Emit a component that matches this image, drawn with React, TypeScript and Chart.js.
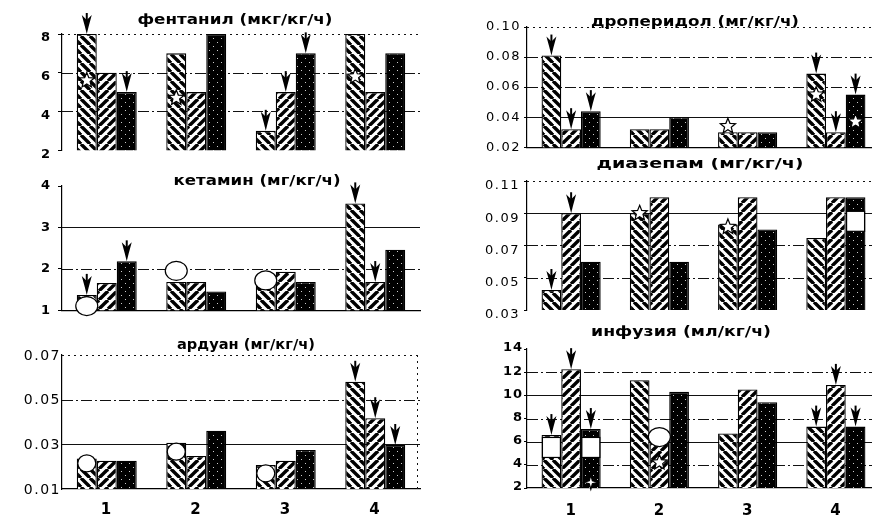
import React, { useEffect, useRef } from 'react';
import { Chart, registerables } from 'chart.js';

Chart.register(...registerables);

// ---------------- data ----------------
const categories = ['1', '2', '3', '4'];

const fentanylA = [8, 7, 3, 8];
const fentanylB = [6, 5, 5, 5];
const fentanylC = [5, 8, 7, 7];
const fentanylTicks = [2, 4, 6, 8];
const fentanylLabels = ['2', '4', '6', '8'];

const droperidolA = [0.081, 0.032, 0.03, 0.069];
const droperidolB = [0.032, 0.032, 0.03, 0.03];
const droperidolC = [0.044, 0.04, 0.03, 0.055];
const droperidolTicks = [0.02, 0.04, 0.06, 0.08, 0.1];
const droperidolLabels = ['0.02', '0.04', '0.06', '0.08', '0.10'];

const ketamineA = [1.37, 1.68, 1.6, 3.58];
const ketamineB = [1.66, 1.68, 1.93, 1.68];
const ketamineC = [2.18, 1.45, 1.68, 2.46];
const ketamineTicks = [1, 2, 3, 4];
const ketamineLabels = ['1', '2', '3', '4'];

const diazepamA = [0.0424, 0.09, 0.083, 0.0747];
const diazepamB = [0.09, 0.1, 0.1, 0.1];
const diazepamC = [0.06, 0.06, 0.08, 0.1];
const diazepamTicks = [0.03, 0.05, 0.07, 0.09, 0.11];
const diazepamLabels = ['0.03', '0.05', '0.07', '0.09', '0.11'];

const arduanA = [0.0237, 0.0307, 0.0207, 0.058];
const arduanB = [0.0227, 0.0248, 0.0227, 0.0417];
const arduanC = [0.0227, 0.0361, 0.0275, 0.0297];
const arduanTicks = [0.01, 0.03, 0.05, 0.07];
const arduanLabels = ['0.01', '0.03', '0.05', '0.07'];

const infusionA = [6.57, 11.3, 6.7, 7.3];
const infusionB = [12.26, 6.0, 10.5, 10.9];
const infusionC = [7.09, 10.3, 9.4, 7.3];
const infusionTicks = [2, 4, 6, 8, 10, 12, 14];
const infusionLabels = ['2', '4', '6', '8', '10', '12', '14'];

// markers: [kind, group index, bar index, value]
type Mark = [string, number, number, number];
const fentanylMarks: Mark[] = [
  ['arrow', 0, 0, 8], ['star', 0, 0, 5.6], ['arrow', 0, 2, 5], ['star', 1, 0, 4.7],
  ['arrow', 2, 0, 3], ['arrow', 2, 1, 5], ['arrow', 2, 2, 7], ['star', 3, 0, 5.8],
];
const droperidolMarks: Mark[] = [
  ['arrow', 0, 0, 0.081], ['arrow', 0, 1, 0.032], ['arrow', 0, 2, 0.044], ['star', 2, 0, 0.034],
  ['arrow', 3, 0, 0.069], ['star', 3, 0, 0.055], ['arrow', 3, 1, 0.03], ['arrow', 3, 2, 0.055],
  ['star', 3, 2, 0.037],
];
const ketamineMarks: Mark[] = [
  ['arrow', 0, 0, 1.37], ['circle', 0, 0, 1.1], ['arrow', 0, 2, 2.18], ['circle', 1, 0, 1.95],
  ['circle', 2, 0, 1.72], ['arrow', 3, 0, 3.58], ['arrow', 3, 1, 1.68],
];
const diazepamMarks: Mark[] = [
  ['arrow', 0, 0, 0.0424], ['arrow', 0, 1, 0.09], ['star', 1, 0, 0.09], ['star', 2, 0, 0.0815],
  ['square', 3, 2, 0.085],
];
const arduanMarks: Mark[] = [
  ['circleS', 0, 0, 0.0215], ['circleS', 1, 0, 0.0267], ['circleS', 2, 0, 0.017],
  ['arrow', 3, 0, 0.058], ['arrow', 3, 1, 0.0417], ['arrow', 3, 2, 0.0297],
];
const infusionMarks: Mark[] = [
  ['arrow', 0, 0, 6.57], ['square', 0, 0, 5.5], ['arrow', 0, 1, 12.26], ['arrow', 0, 2, 7.09],
  ['square', 0, 2, 5.5], ['cross', 0, 2, 2.5], ['circle', 1, 1, 6.4], ['star', 1, 1, 4.2],
  ['arrow', 3, 0, 7.3], ['arrow', 3, 1, 10.9], ['arrow', 3, 2, 7.3],
];

// ---------------- panel configs ----------------
const FONT = '"DejaVu Sans", "Liberation Sans", Arial, sans-serif';

const panels = [
  {
    title: 'фентанил (мкг/кг/ч)', series: [fentanylA, fentanylB, fentanylC], ticks: fentanylTicks, labels: fentanylLabels,
    min: 2, max: 8, marks: fentanylMarks,
    box: [0, 0, 440, 165], plot: [62, 34, 420, 157], titlePos: [235, 20, 195],
    tickFont: { size: 13, weight: 'bold' }, tickSpacing: 1, tickPad: 7, tickLen: 4, labelOffset: 4,
    lines: [[4, 'dashdot'], [6, 'dashdot'], [8, 'dot']], xBorder: 'none', showX: false, xPad: 0,
  },
  {
    title: 'дроперидол (мг/кг/ч)', series: [droperidolA, droperidolB, droperidolC], ticks: droperidolTicks, labels: droperidolLabels,
    min: 0.02, max: 0.1, marks: droperidolMarks,
    box: [436, 0, 444, 158], plot: [527, 27, 880, 152], titlePos: [695, 22, 208],
    tickFont: { size: 13, weight: 'normal' }, tickSpacing: 1.5, tickPad: 3, tickLen: 3, labelOffset: 0,
    lines: [[0.1, 'dot'], [0.08, 'dashdot'], [0.06, 'dashdot'], [0.04, 'solid']], xBorder: 'dot', showX: false, xPad: 0,
  },
  {
    title: 'кетамин (мг/кг/ч)', series: [ketamineA, ketamineB, ketamineC], ticks: ketamineTicks, labels: ketamineLabels,
    min: 1, max: 4, marks: ketamineMarks,
    box: [0, 165, 440, 160], plot: [62, 186, 420, 316], titlePos: [257, 181, 167],
    tickFont: { size: 13, weight: 'bold' }, tickSpacing: 1, tickPad: 7, tickLen: 4, labelOffset: 0,
    lines: [[3, 'solid'], [2, 'dashdot']], xBorder: 'dot', showX: false, xPad: 0,
  },
  {
    title: 'диазепам (мг/кг/ч)', series: [diazepamA, diazepamB, diazepamC], ticks: diazepamTicks, labels: diazepamLabels,
    min: 0.03, max: 0.11, marks: diazepamMarks,
    box: [436, 158, 444, 167], plot: [527, 181, 880, 310], titlePos: [700, 164, 207],
    tickFont: { size: 13, weight: 'normal' }, tickSpacing: 1.5, tickPad: 4, tickLen: 3, labelOffset: 5,
    lines: [[0.11, 'dot'], [0.09, 'solid'], [0.07, 'dashdot'], [0.05, 'dashdot']], xBorder: 'none', showX: false, xPad: 0,
  },
  {
    title: 'ардуан (мг/кг/ч)', series: [arduanA, arduanB, arduanC], ticks: arduanTicks, labels: arduanLabels,
    min: 0.01, max: 0.07, marks: arduanMarks,
    box: [0, 325, 440, 194], plot: [62, 355, 420, 489], titlePos: [246, 345, 138],
    tickFont: { size: 14, weight: 'normal' }, tickSpacing: 1.5, tickPad: 1, tickLen: 0, labelOffset: 1,
    lines: [[0.07, 'dot'], [0.05, 'dashdot'], [0.03, 'solid']], xBorder: 'solid', showX: true, xPad: 12, rightDot: true,
  },
  {
    title: 'инфузия (мл/кг/ч)', series: [infusionA, infusionB, infusionC], ticks: infusionTicks, labels: infusionLabels,
    min: 2, max: 14, marks: infusionMarks,
    box: [436, 325, 444, 194], plot: [527, 349, 880, 488], titlePos: [681, 332, 180],
    tickFont: { size: 13, weight: 'bold' }, tickSpacing: 1, tickPad: 1, tickLen: 3, labelOffset: -1,
    lines: [[12, 'dashdot'], [10, 'solid'], [8, 'dashdot'], [6, 'solid'], [4, 'dashdot']], xBorder: 'solid', showX: true, xPad: 14,
  },
];

const DASH: Record<string, number[]> = {
  solid: [],
  dashdot: [11, 3, 2, 3],
  dot: [2, 4],
  dash: [8, 4],
};

// ---------------- fills ----------------
function hatch(ctx: CanvasRenderingContext2D, dir: 'back' | 'fwd') {
  const s = 9;
  const c = document.createElement('canvas');
  c.width = s; c.height = s;
  const g = c.getContext('2d')!;
  g.fillStyle = '#fff';
  g.fillRect(0, 0, s, s);
  g.strokeStyle = '#000';
  g.lineWidth = 3.4;
  for (const k of [-s, 0, s]) {
    g.beginPath();
    if (dir === 'back') { g.moveTo(k, 0); g.lineTo(k + s, s); }
    else { g.moveTo(k, s); g.lineTo(k + s, 0); }
    g.stroke();
  }
  return ctx.createPattern(c, 'repeat')!;
}

function dots(ctx: CanvasRenderingContext2D) {
  const s = 8;
  const c = document.createElement('canvas');
  c.width = s; c.height = s;
  const g = c.getContext('2d')!;
  g.fillStyle = '#000';
  g.fillRect(0, 0, s, s);
  g.fillStyle = '#ccc';
  g.fillRect(1, 2, 1, 1);
  g.fillRect(5, 6, 1, 1);
  return ctx.createPattern(c, 'repeat')!;
}

// ---------------- markers ----------------
function drawStar(ctx: CanvasRenderingContext2D, x: number, y: number, pts: number, ro: number, ri: number) {
  ctx.beginPath();
  for (let i = 0; i < pts * 2; i++) {
    const r = i % 2 === 0 ? ro : ri;
    const a = -Math.PI / 2 + (i * Math.PI) / pts;
    const px = x + r * Math.cos(a);
    const py = y + r * Math.sin(a);
    if (i === 0) ctx.moveTo(px, py); else ctx.lineTo(px, py);
  }
  ctx.closePath();
  ctx.fillStyle = '#fff';
  ctx.fill();
  ctx.strokeStyle = '#000';
  ctx.lineWidth = 1.2;
  ctx.stroke();
}

function drawMark(ctx: CanvasRenderingContext2D, kind: string, x: number, y: number) {
  ctx.save();
  ctx.setLineDash([]);
  if (kind === 'arrow') {
    ctx.fillStyle = '#000';
    ctx.beginPath();
    ctx.moveTo(x, y);
    ctx.lineTo(x - 2, y - 8);
    ctx.lineTo(x - 5, y - 19);
    ctx.lineTo(x, y - 14);
    ctx.lineTo(x + 5, y - 19);
    ctx.lineTo(x + 2, y - 8);
    ctx.closePath();
    ctx.fill();
    ctx.strokeStyle = '#000';
    ctx.lineWidth = 2;
    ctx.beginPath();
    ctx.moveTo(x, y - 21);
    ctx.lineTo(x, y - 10);
    ctx.stroke();
  } else if (kind === 'star') {
    drawStar(ctx, x, y, 5, 8, 3.5);
  } else if (kind === 'cross') {
    drawStar(ctx, x, y, 4, 7, 2.2);
  } else if (kind === 'circle' || kind === 'circleS') {
    const rx = kind === 'circle' ? 11 : 9;
    const ry = kind === 'circle' ? 9.5 : 8.5;
    ctx.beginPath();
    ctx.ellipse(x, y, rx, ry, 0, 0, Math.PI * 2);
    ctx.fillStyle = '#fff';
    ctx.fill();
    ctx.strokeStyle = '#000';
    ctx.lineWidth = 1.2;
    ctx.stroke();
  } else if (kind === 'square') {
    ctx.fillStyle = '#fff';
    ctx.fillRect(x - 9, y - 10, 18, 20);
    ctx.strokeStyle = '#000';
    ctx.lineWidth = 1.2;
    ctx.strokeRect(x - 9, y - 10, 18, 20);
  }
  ctx.restore();
}

// ---------------- component ----------------
function Panel({ p }: { p: any }) {
  const ref = useRef<HTMLCanvasElement | null>(null);
  const [bx, by, bw, bh] = p.box;
  const [pl, pt, pr, pb] = p.plot;

  useEffect(() => {
    const canvas = ref.current!;
    const ctx = canvas.getContext('2d')!;
    const fills = [hatch(ctx, 'back'), hatch(ctx, 'fwd'), dots(ctx)];
    const yW = pl - bx;
    const xH = by + bh - pb;

    const decor = {
      id: 'decor',
      beforeDraw(chart: any) {
        chart.ctx.letterSpacing = p.tickSpacing + 'px';
      },
      beforeDatasetsDraw(chart: any) {
        const c = chart.ctx;
        const area = chart.chartArea;
        const ys = chart.scales.y;
        c.save();
        c.strokeStyle = '#111';
        c.lineWidth = 1;
        for (const [v, st] of p.lines) {
          const y = Math.round(ys.getPixelForValue(v)) + 0.5;
          c.setLineDash(DASH[st]);
          c.beginPath();
          c.moveTo(area.left, y);
          c.lineTo(area.right, y);
          c.stroke();
        }
        if (p.rightDot) {
          c.setLineDash(DASH.dot);
          c.beginPath();
          c.moveTo(area.right - 2.5, area.top);
          c.lineTo(area.right - 2.5, area.bottom);
          c.stroke();
        }
        c.restore();
      },
      afterDatasetsDraw(chart: any) {
        const c = chart.ctx;
        const ys = chart.scales.y;
        for (const [kind, g, bar, v] of p.marks) {
          const el = chart.getDatasetMeta(bar).data[g];
          drawMark(c, kind, el.x, ys.getPixelForValue(v));
        }
      },
      afterDraw(chart: any) {
        const c = chart.ctx;
        const [tx, ty, tw] = p.titlePos;
        c.save();
        c.letterSpacing = '0px';
        c.font = 'bold 14px ' + FONT;
        c.fillStyle = '#000';
        c.textBaseline = 'middle';
        c.textAlign = 'center';
        const w0 = c.measureText(p.title).width;
        const sx = tw / w0;
        c.translate(tx - bx, ty - by);
        c.scale(sx, 1);
        c.fillText(p.title, 0, 0);
        c.restore();
        c.letterSpacing = '0px';
      },
    };

    const chart = new Chart(canvas, {
      type: 'bar',
      data: {
        labels: categories,
        datasets: p.series.map((d: number[], i: number) => ({
          data: d,
          backgroundColor: fills[i],
          borderColor: '#000',
          borderWidth: 1.3,
          borderSkipped: false,
          barPercentage: 1,
          categoryPercentage: 0.67,
        })),
      },
      options: {
        responsive: false,
        animation: false,
        devicePixelRatio: 1,
        layout: {
          autoPadding: false,
          padding: { left: 0, top: pt - by, right: bx + bw - pr, bottom: 0 },
        },
        plugins: {
          legend: { display: false },
          tooltip: { enabled: false },
          title: { display: false },
        },
        scales: {
          x: {
            type: 'category',
            offset: true,
            grid: { display: false, drawTicks: false },
            border: {
              display: p.xBorder !== 'none',
              color: '#000',
              width: 1.2,
              dash: p.xBorder === 'dot' ? DASH.dot : [],
            },
            ticks: {
              display: p.showX,
              color: '#000',
              font: { family: FONT, size: 15, weight: 'bold' },
              padding: p.xPad,
              maxRotation: 0,
              autoSkip: false,
            },
            afterFit: (s: any) => { s.height = xH; },
          },
          y: {
            type: 'linear',
            min: p.min,
            max: p.max,
            afterBuildTicks: (s: any) => { s.ticks = p.ticks.map((v: number) => ({ value: v })); },
            afterFit: (s: any) => { s.width = yW; },
            grid: {
              drawOnChartArea: false,
              drawTicks: p.tickLen > 0,
              tickLength: p.tickLen,
              color: '#000',
              lineWidth: 1,
            },
            border: { display: true, color: '#000', width: 1.2 },
            ticks: {
              autoSkip: false,
              color: '#000',
              font: { family: FONT, size: p.tickFont.size, weight: p.tickFont.weight },
              padding: p.tickPad,
              labelOffset: p.labelOffset,
              callback: (_v: any, i: number) => p.labels[i],
            },
          },
        },
      } as any,
      plugins: [decor],
    });
    return () => chart.destroy();
  }, []);

  return (
    <canvas
      ref={ref}
      width={bw}
      height={bh}
      style={{ position: 'absolute', left: bx, top: by, width: bw, height: bh }}
    />
  );
}

export default function App() {
  return (
    <div
      style={{
        position: 'absolute',
        left: 0,
        top: 0,
        width: 872,
        height: 519,
        overflow: 'hidden',
        background: '#fff',
      }}
    >
      {panels.map((p, i) => (
        <Panel key={i} p={p} />
      ))}
    </div>
  );
}
